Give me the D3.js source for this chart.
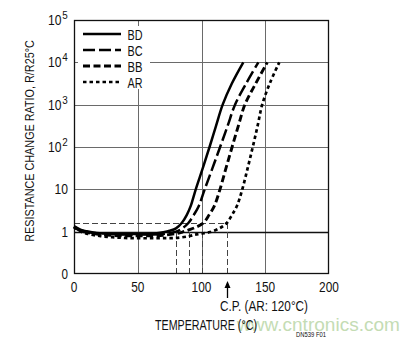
<!DOCTYPE html>
<html><head><meta charset="utf-8">
<script src="https://cdn.jsdelivr.net/npm/d3@7/dist/d3.min.js"></script>
<style>
html,body{margin:0;padding:0;background:#fff;}
svg{display:block;}
text{font-family:"Liberation Sans",Arial,sans-serif;fill:#111;}
</style></head>
<body><svg id="c" width="418" height="343"></svg>
<script>
const seriesNames = ["BD","BC","BB","AR"];
const tempBD  = [0,5,10,15,20,30,40,50,60,65,70,75,80,84.5,88.5,91.5,95.5,101,106.3,111.4,116.6,123.8,132.8];
const ratioBD = [1.35,1.12,1.02,0.96,0.92,0.89,0.88,0.88,0.89,0.92,0.97,1.05,1.2,1.6,2.5,4,10,31.6,100,316,1000,3162,10000];
const tempBC  = [0,5,10,20,30,40,50,60,70,75,80,85,89.7,94,97.8,102.5,108.6,114.6,120.5,126.3,135,144.6];
const ratioBC = [1.3,1.08,0.99,0.9,0.87,0.86,0.86,0.86,0.88,0.93,1.0,1.2,1.6,2.5,4,10,31.6,100,316,1000,3162,10000];
const tempBB  = [0,5,10,20,30,40,50,60,70,80,85,90,95,101.4,106,110,114.5,119.2,124,128.9,134,142.5,151.6];
const ratioBB = [1.28,1.05,0.96,0.86,0.82,0.8,0.8,0.8,0.82,0.9,0.98,1.1,1.25,1.6,2.5,4,10,31.6,100,316,1000,3162,10000];
const tempAR  = [0,5,10,20,30,40,50,60,70,80,90,95,100,106.7,114.5,119.8,124,128,132,136.2,140.2,144,147.6,153.5,161];
const ratioAR = [1.3,1.02,0.9,0.79,0.74,0.71,0.7,0.7,0.7,0.71,0.78,0.85,0.9,0.98,1.22,1.6,2.5,4.2,10,31.6,100,316,1000,3162,10000];

const xTicks = [0,50,100,150,200];
const yTicks = [0.1,1,10,100,1000,10000,100000];
const yTickBase = ["0","1","10","10","10","10","10"];
const yTickExp  = ["","","","2","3","4","5"];
const cpTemps = [80,90,100,120];
const cpRatios = [1.0,1.0,1.0,1.6];
const cpLevel = 1.6;
const cpTemp = 120;

const svg = d3.select("#c");
const L=74,R=329,T=20,B=274;
const x = d3.scaleLinear().domain([0,200]).range([L,R]);
const y = d3.scaleLog().domain([0.1,100000]).range([B,T]);

// condensed text: scaled horizontally so that its width equals w
function ctext(parent, px, py, str, size, anchor, w, rot){
  const gg = parent.append("g");
  const t = gg.append("text").attr("font-size",size).attr("text-anchor",anchor||"start").text(str);
  const nat = t.node().getComputedTextLength();
  const sx = w ? w/nat : 1;
  gg.attr("transform",`translate(${px},${py})${rot?` rotate(${rot})`:""} scale(${sx},1)`);
  return t;
}

// grid
const g = svg.append("g");
g.selectAll("line.vg").data(xTicks.slice(1,-1)).enter().append("line")
  .attr("x1",d=>Math.round(x(d))+0.5).attr("x2",d=>Math.round(x(d))+0.5).attr("y1",T).attr("y2",B)
  .attr("stroke","#6a6a6a").attr("stroke-width",1);
g.selectAll("line.hg").data(yTicks.slice(1,-1)).enter().append("line")
  .attr("x1",L).attr("x2",R).attr("y1",d=>Math.round(y(d))+0.5).attr("y2",d=>Math.round(y(d))+0.5)
  .attr("stroke",d=>d===1?"#111":"#6a6a6a").attr("stroke-width",d=>d===1?1.3:1);

// reference dashed lines
const dash = svg.append("g").attr("stroke","#444").attr("stroke-width",1).attr("stroke-dasharray","6,3").attr("fill","none");
dash.append("line").attr("x1",x(0)).attr("x2",x(cpTemp)).attr("y1",Math.round(y(cpLevel))+0.5).attr("y2",Math.round(y(cpLevel))+0.5);
dash.selectAll("line.v").data(cpTemps).enter().append("line")
  .attr("x1",d=>Math.round(x(d))+0.5).attr("x2",d=>Math.round(x(d))+0.5)
  .attr("y1",B).attr("y2",(d,i)=>y(cpRatios[i]));

// legend background
svg.append("rect").attr("x",78).attr("y",26).attr("width",72).attr("height",63).attr("fill","#fff");

// frame
svg.append("rect").attr("x",L+0.5).attr("y",T+0.5).attr("width",R-L-1).attr("height",B-T-1)
  .attr("fill","none").attr("stroke","#111").attr("stroke-width",1.3);

// curves
const styles = [
  {dash:null, w:2.5},
  {dash:"12,4", w:2.5},
  {dash:"7,3.5", w:2.9},
  {dash:"3.5,3", w:2.7}
];
const temps=[tempBD,tempBC,tempBB,tempAR], ratios=[ratioBD,ratioBC,ratioBB,ratioAR];
const line = d3.line().x(d=>x(d[0])).y(d=>y(d[1])).curve(d3.curveCatmullRom.alpha(0.5));
seriesNames.forEach((n,i)=>{
  const pts = temps[i].map((t,j)=>[t,ratios[i][j]]);
  svg.append("path").datum(pts).attr("d",line).attr("fill","none")
    .attr("stroke","#000").attr("stroke-width",styles[i].w)
    .attr("stroke-dasharray",styles[i].dash);
});

// legend
const lg = svg.append("g");
seriesNames.forEach((n,i)=>{
  const yy = 34 + i*16;
  lg.append("line").attr("x1",83).attr("x2",121).attr("y1",yy).attr("y2",yy)
    .attr("stroke","#000").attr("stroke-width",styles[i].w).attr("stroke-dasharray",styles[i].dash);
  ctext(lg, 127.5, yy+5.5, n, 15, "start", 15);
});

// y tick labels
yTicks.forEach((v,i)=>{
  const yy = y(v);
  if(yTickExp[i]){
    ctext(svg, 48, yy+5, yTickBase[i], 14.5, "start", 13.5);
    ctext(svg, 62.3, yy-1, yTickExp[i], 10.5, "start", 5.5);
  } else {
    const w = yTickBase[i].length>1 ? 13.5 : 6.5;
    ctext(svg, 68, yy+5, yTickBase[i], 14.5, "end", w);
  }
});
// x tick labels
xTicks.forEach(d=>{
  const s = String(d);
  ctext(svg, x(d), 292, s, 14.5, "middle", s.length*6.6);
});

// axis titles
ctext(svg, 34, 141, "RESISTANCE CHANGE RATIO, R/R25°C", 13.5, "middle", 202, -90);
// watermark
ctext(svg, 237, 331, "www.cntronics.com", 19, "start", 163).style("fill","#c4dcb4");
ctext(svg, 206, 329.5, "TEMPERATURE (°C)", 14, "middle", 102);
ctext(svg, 264, 311, "C.P. (AR: 120°C)", 14, "middle", 88);
ctext(svg, 296, 337, "DN539 F01", 6.5, "start", 30);

// arrow
const ax = Math.round(x(cpTemp))+0.5;
svg.append("line").attr("x1",ax).attr("x2",ax).attr("y1",298).attr("y2",286)
  .attr("stroke","#000").attr("stroke-width",1.3);
svg.append("path").attr("d",`M${ax-3},288 L${ax},281 L${ax+3},288 Z`).attr("fill","#000");
</script></body></html>
